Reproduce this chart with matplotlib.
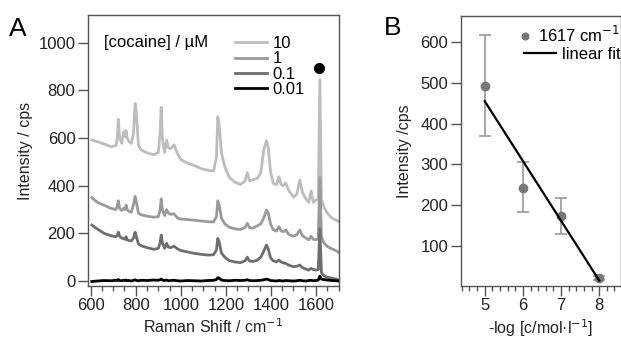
import matplotlib
matplotlib.use("Agg")
import matplotlib.pyplot as plt
from matplotlib.ticker import MultipleLocator

plt.rcParams['font.family'] = ['Liberation Sans', 'DejaVu Sans']

# panel A: Raman spectra
shift = [605, 630, 660, 690, 712, 718, 723, 728, 738, 745, 752, 757, 762, 770, 780, 790,
         797, 803, 812, 825, 850, 880, 900, 908, 913, 918, 928, 937, 945, 955, 970, 985,
         1000, 1030, 1060, 1090, 1120, 1145, 1158, 1164, 1170, 1180, 1195, 1215, 1240, 1265,
         1285, 1295, 1305, 1320, 1340, 1355, 1368, 1380, 1388, 1398, 1410, 1425, 1435, 1445,
         1455, 1465, 1480, 1500, 1515, 1528, 1540, 1555, 1568, 1578, 1588, 1600, 1610, 1617,
         1624, 1635, 1650, 1670, 1690, 1700]

int_10uM = [592, 585, 575, 564, 568, 600, 679, 600, 578, 625, 605, 632, 600, 585, 578, 620,
            746, 700, 570, 550, 538, 530, 540, 620, 730, 600, 540, 592, 560, 555, 572, 535,
            510, 495, 485, 472, 465, 462, 520, 690, 660, 540, 480, 435, 415, 405,
            420, 455, 420, 425, 431, 455, 550, 590, 560, 460, 410, 405, 438, 405,
            400, 412, 378, 352, 365, 424, 370, 345, 330, 378, 330, 340, 345, 845,
            345, 310, 285, 265, 255, 250]

int_1uM = [350, 330, 318, 305, 300, 315, 337, 305, 296, 305, 300, 319, 300, 292, 289, 320,
           355, 330, 285, 278, 272, 268, 270, 300, 345, 300, 275, 300, 285, 280, 282, 265,
           260, 258, 255, 252, 249, 248, 270, 337, 320, 265, 240, 226, 219, 216,
           225, 242, 224, 222, 232, 240, 265, 298, 285, 240, 215, 210, 228, 210,
           207, 214, 195, 188, 195, 214, 190, 180, 173, 188, 175, 173, 180, 435,
           185, 160, 145, 135, 127, 120]

int_01uM = [235, 218, 200, 190, 186, 192, 205, 188, 180, 178, 175, 186, 172, 170, 168, 180,
            205, 185, 155, 148, 140, 133, 137, 160, 193, 160, 137, 158, 142, 140, 146, 135,
            128, 122, 116, 112, 109, 110, 130, 179, 165, 118, 100, 85, 80, 77,
            85, 100, 84, 82, 88, 100, 125, 151, 135, 98, 85, 80, 88, 80,
            76, 74, 66, 60, 62, 67, 56, 50, 46, 53, 48, 46, 48, 220,
            35, 22, 16, 12, 8, 4]

int_001uM = [-2, 0, 2, 1, 3, 2, 6, 2, 1, 3, 2, 4, 1, 2, 0, 3,
             5, 2, 1, 3, 2, 4, 3, 5, 8, 4, 2, 4, 1, 2, 3, 1,
             0, 2, 1, 0, 2, 3, 6, 14, 12, 4, 2, 1, 3, 2,
             3, 5, 2, 1, 2, 3, 5, 8, 6, 2, 1, 0, 2, 1,
             0, 2, 1, 0, 1, 3, 1, 0, 2, 3, 1, 2, 4, 20,
             8, 6, 4, 2, 1, 0]

conc_labels = ["10", "1", "0.1", "0.01"]
conc_colors = ["#bdbdbd", "#9a9a9a", "#6e6e6e", "#000000"]

# panel B: peak intensity at 1617 cm-1
neg_log_c = [5, 6, 7, 8]
peak_int = [493, 243, 173, 22]
peak_err_lo = [123, 60, 43, 5]
peak_err_hi = [125, 62, 44, 5]
fit_x = [5, 8]
fit_y = [455, 15]

spine_col = "#555555"
fs = 12
lfs = 11.5

fig = plt.figure(figsize=(6.21, 3.41), dpi=100)

axA = fig.add_axes([0.1417, 0.1613, 0.4042, 0.7947])
for y, lab, c in zip([int_10uM, int_1uM, int_01uM, int_001uM], conc_labels, conc_colors):
    axA.plot(shift, y, color=c, lw=2.0, label=lab)
axA.plot([1612], [895], 'o', color='black', ms=7)
axA.set_xlim(588, 1702)
axA.set_ylim(-21, 1117)
axA.xaxis.set_major_locator(MultipleLocator(200))
axA.xaxis.set_minor_locator(MultipleLocator(50))
axA.yaxis.set_major_locator(MultipleLocator(200))
axA.set_xlabel("Raman Shift / cm$^{-1}$", fontsize=lfs, color="#222222", labelpad=3)
axA.set_ylabel("Intensity / cps", fontsize=lfs, color="#222222", labelpad=4)
axA.text(0.065, 0.9, "[cocaine] / \u00b5M", transform=axA.transAxes, fontsize=fs, va='center')
axA.legend(loc='upper left', bbox_to_anchor=(0.585, 0.922), frameon=False, fontsize=fs,
           handlelength=1.9, handletextpad=0.35, labelspacing=0.02, borderaxespad=0,
           borderpad=0)
fig.text(0.014, 0.893, "A", fontsize=19)

axB = fig.add_axes([0.7419, 0.162, 0.258, 0.792])
axB.errorbar(neg_log_c, peak_int, yerr=[peak_err_lo, peak_err_hi], fmt='none',
             ecolor="#9a9a9a", elinewidth=1.2, capsize=4, capthick=1.2)
dots, = axB.plot(neg_log_c, peak_int, 'o', color="#777777", ms=6, label="1617 cm$^{-1}$")
fit, = axB.plot(fit_x, fit_y, color='black', lw=1.6, label="linear fit")
axB.set_xlim(4.37, 8.57)
axB.set_ylim(2, 665)
axB.xaxis.set_major_locator(MultipleLocator(1))
axB.xaxis.set_minor_locator(MultipleLocator(0.2))
axB.yaxis.set_major_locator(MultipleLocator(100))
axB.set_xlabel("-log [c/mol\u00b7l$^{-1}$]", fontsize=lfs, color="#222222", labelpad=3)
axB.set_ylabel("Intensity /cps", fontsize=lfs, color="#222222", labelpad=6)
leg1 = axB.legend(handles=[dots], loc='upper right', bbox_to_anchor=(0.995, 0.965),
                  frameon=False, fontsize=fs, handlelength=0.8, handletextpad=0.4,
                  borderaxespad=0, borderpad=0, markerscale=0.8)
axB.add_artist(leg1)
axB.legend(handles=[fit], loc='upper right', bbox_to_anchor=(1.0, 0.885),
           frameon=False, fontsize=fs, handlelength=1.9, handletextpad=0.4,
           borderaxespad=0, borderpad=0)
fig.text(0.618, 0.897, "B", fontsize=19)

for ax in (axA, axB):
    for s in ax.spines.values():
        s.set_color(spine_col)
        s.set_linewidth(1.0)
    ax.tick_params(which='major', direction='out', length=7, width=1, color=spine_col,
                   labelsize=fs, labelcolor="#222222", pad=2)
    ax.tick_params(which='minor', direction='out', length=3.5, width=1, color=spine_col)

fig.savefig("out.png", dpi=100)
